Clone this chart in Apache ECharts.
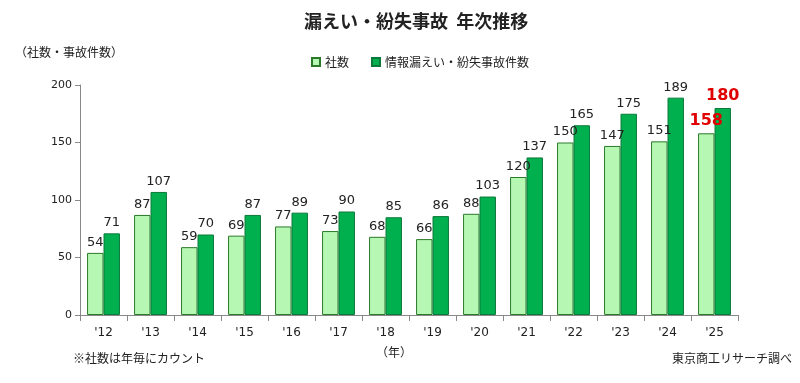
<!DOCTYPE html>
<html><head><meta charset="utf-8">
<script src="https://cdn.jsdelivr.net/npm/echarts@6/dist/echarts.min.js"></script>
<style>html,body{margin:0;padding:0;background:#fff}#c{width:800px;height:383px}</style>
</head><body><div id="c"></div>
<script>
var categories = ["'12","'13","'14","'15","'16","'17","'18","'19","'20","'21","'22","'23","'24","'25"];
var companies = [54,87,59,69,77,73,68,66,88,120,150,147,151,158];
var incidents = [71,107,70,87,89,90,85,86,103,137,165,175,189,180];
var yTicks = [0,50,100,150,200];
var font = "'Noto Sans CJK JP', 'DejaVu Sans', sans-serif";
var lastIdx = categories.length - 1;
function mk(vals){
  return vals.map(function(v,i){
    if(i===lastIdx) return {value:v,label:{color:'#e00000',fontWeight:'bold',fontSize:16}};
    return v;
  });
}
var chart = echarts.init(document.getElementById('c'));
chart.setOption({
  animation:false,
  title:{text:'漏えい・紛失事故  年次推移',left:299,top:7,textStyle:{fontFamily:font,fontSize:18,fontWeight:'bold',color:'#222'}},
  legend:{top:51,left:306,icon:'rect',itemWidth:8,itemHeight:8,itemGap:22,textStyle:{fontFamily:font,fontSize:12,color:'#222'},data:['社数','情報漏えい・紛失事故件数']},
  grid:{left:80,right:62,top:85,bottom:68},
  xAxis:{type:'category',data:categories,
    axisLine:{lineStyle:{color:'#888'}},axisTick:{show:true,length:6,lineStyle:{color:'#888'}},
    axisLabel:{fontFamily:"'DejaVu Sans', sans-serif",fontSize:12,color:'#222',margin:12}},
  yAxis:{type:'value',min:0,max:200,interval:50,
    axisLine:{show:true,lineStyle:{color:'#888'}},axisTick:{show:true,length:5,lineStyle:{color:'#888'}},
    splitLine:{show:false},axisLabel:{fontFamily:"'DejaVu Sans', sans-serif",fontSize:11,color:'#222',margin:8}},
  graphic:[
    {type:'text',left:15,top:46,style:{text:'（社数・事故件数）',font:'12px '+font,fill:'#222'}},
    {type:'text',left:376,top:346,style:{text:'（年）',font:'12px '+font,fill:'#222'}},
    {type:'text',left:73,top:352,style:{text:'※社数は年毎にカウント',font:'12px '+font,fill:'#222'}},
    {type:'text',right:8,top:352,style:{text:'東京商工リサーチ調べ',font:'12px '+font,fill:'#222'}}
  ],
  series:[
    {name:'社数',type:'bar',data:mk(companies),barWidth:'35%',barGap:'0%',
      itemStyle:{color:'#b7f7b4',borderColor:'#2a7a2a',borderWidth:1},
      label:{show:true,position:'top',distance:4,fontFamily:"'DejaVu Sans', sans-serif",fontSize:13,color:'#222'}},
    {name:'情報漏えい・紛失事故件数',type:'bar',data:mk(incidents),barWidth:'35%',
      itemStyle:{color:'#00b04f',borderColor:'#0a7a3a',borderWidth:1},
      label:{show:true,position:'top',distance:4,fontFamily:"'DejaVu Sans', sans-serif",fontSize:13,color:'#222'}}
  ]
});
</script></body></html>
